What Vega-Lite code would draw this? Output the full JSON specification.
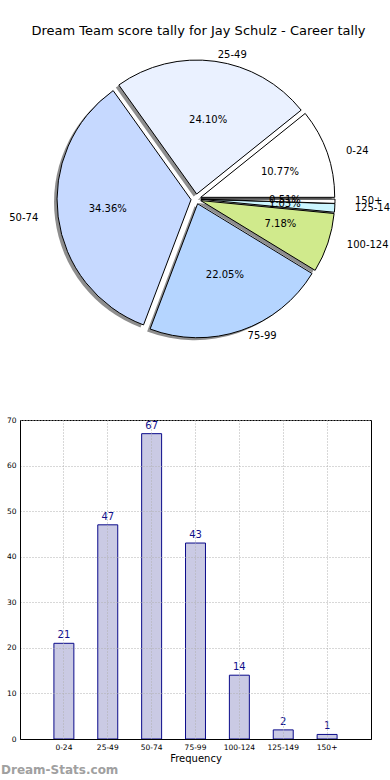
{
  "$schema": "https://vega.github.io/schema/vega-lite/v6.json",
  "padding": {"top": 25, "left": 0, "right": 0, "bottom": 0},
  "config": {"font": "DejaVu Sans", "view": {"stroke": "black", "strokeWidth": 1}},
  "title": {"text": "Dream Team score tally for Jay Schulz - Career tally", "fontSize": 13, "fontWeight": "normal", "color": "black", "anchor": "middle", "offset": 4},
  "data": {"values": [
    {"range": "0-24", "count": 21, "order": 1, "pct": "10.77%"},
    {"range": "25-49", "count": 47, "order": 2, "pct": "24.10%"},
    {"range": "50-74", "count": 67, "order": 3, "pct": "34.36%"},
    {"range": "75-99", "count": 43, "order": 4, "pct": "22.05%"},
    {"range": "100-124", "count": 14, "order": 5, "pct": "7.18%"},
    {"range": "125-149", "count": 2, "order": 6, "pct": "1.03%"},
    {"range": "150+", "count": 1, "order": 7, "pct": "0.51%"}
  ]},
  "spacing": 59,
  "vconcat": [
    {
      "width": 352,
      "height": 314,
      "view": {"stroke": null},
      "encoding": {
        "theta": {"field": "count", "type": "quantitative", "stack": "normalize", "scale": {"domain": [0, 1], "range": [1.5707963, -4.712389]}},
        "order": {"field": "order", "type": "quantitative", "sort": "ascending"}
      },
      "layer": [
        {
          "mark": {"type": "arc", "outerRadius": 134, "fill": "#8e8e8e", "stroke": null,
            "xOffset": {"expr": "5*cos(PI*(datum.count_start+datum.count_end)) - 3"},
            "yOffset": {"expr": "-5*sin(PI*(datum.count_start+datum.count_end)) + 2.5"}},
          "encoding": {"detail": {"field": "range", "type": "nominal"}}
        },
        {
          "mark": {"type": "arc", "outerRadius": 134, "stroke": "black", "strokeWidth": 1,
            "xOffset": {"expr": "5*cos(PI*(datum.count_start+datum.count_end))"},
            "yOffset": {"expr": "-5*sin(PI*(datum.count_start+datum.count_end))"}},
          "encoding": {
            "color": {"field": "range", "type": "nominal", "legend": null,
              "scale": {"domain": ["0-24", "25-49", "50-74", "75-99", "100-124", "125-149", "150+"],
                        "range": ["#ffffff", "#eaf1ff", "#c6d9ff", "#b5d5ff", "#d0ea8c", "#ccf6ff", "#ffffff"]}}
          }
        },
        {
          "mark": {"type": "text", "radius": 80, "fontSize": 10, "color": "black", "baseline": "middle", "align": "center",
            "dx": {"expr": "9*cos(PI*(datum.count_start+datum.count_end))"}},
          "encoding": {"text": {"field": "pct"}, "detail": {"field": "range", "type": "nominal"}}
        },
        {
          "mark": {"type": "text", "radius": 150, "fontSize": 10, "color": "black", "baseline": "middle",
            "dx": {"expr": "9*cos(PI*(datum.count_start+datum.count_end))"},
            "dy": {"expr": "5*sin(PI*(datum.count_start+datum.count_end))"},
            "align": {"expr": "cos(PI*(datum.count_start+datum.count_end)) >= 0 ? 'left' : 'right'"}},
          "encoding": {"text": {"field": "range"}, "detail": {"field": "range", "type": "nominal"}}
        }
      ]
    },
    {
      "width": 351,
      "height": 319,
      "title": {"text": "Dream-Stats.com", "orient": "bottom", "anchor": "start", "frame": "bounds", "fontSize": 12, "fontWeight": "bold", "color": "#a0a0a0", "offset": 1},
      "encoding": {
        "x": {"field": "range", "type": "nominal", "sort": {"field": "order"},
          "scale": {"paddingInner": 0.545, "paddingOuter": 0.773},
          "axis": {"title": "Frequency", "titleFontSize": 10, "titleFontWeight": "normal", "titleColor": "black", "titlePadding": 3,
                   "labelAngle": 0, "labelFontSize": 7.5, "labelColor": "black", "labelPadding": 4, "ticks": false,
                   "domainColor": "black", "grid": true, "gridColor": "#b0b0b0", "gridDash": [1, 2], "bandPosition": 0.5, "zindex": 1}},
        "y": {"field": "count", "type": "quantitative",
          "scale": {"domain": [0, 70], "nice": false},
          "axis": {"title": null, "values": [0, 10, 20, 30, 40, 50, 60, 70], "labelFontSize": 7.5, "labelColor": "black", "labelPadding": 4,
                   "ticks": false, "domainColor": "black", "grid": true, "gridColor": "#b0b0b0", "gridDash": [1, 2], "minExtent": 19, "zindex": 1}}
      },
      "layer": [
        {"mark": {"type": "bar", "fill": "#cacae4", "stroke": "#0a0a8a", "strokeWidth": 1}},
        {"mark": {"type": "text", "baseline": "bottom", "dy": -3, "fontSize": 10, "color": "#10108c"},
         "encoding": {"text": {"field": "count", "type": "quantitative"}}}
      ]
    }
  ]
}
